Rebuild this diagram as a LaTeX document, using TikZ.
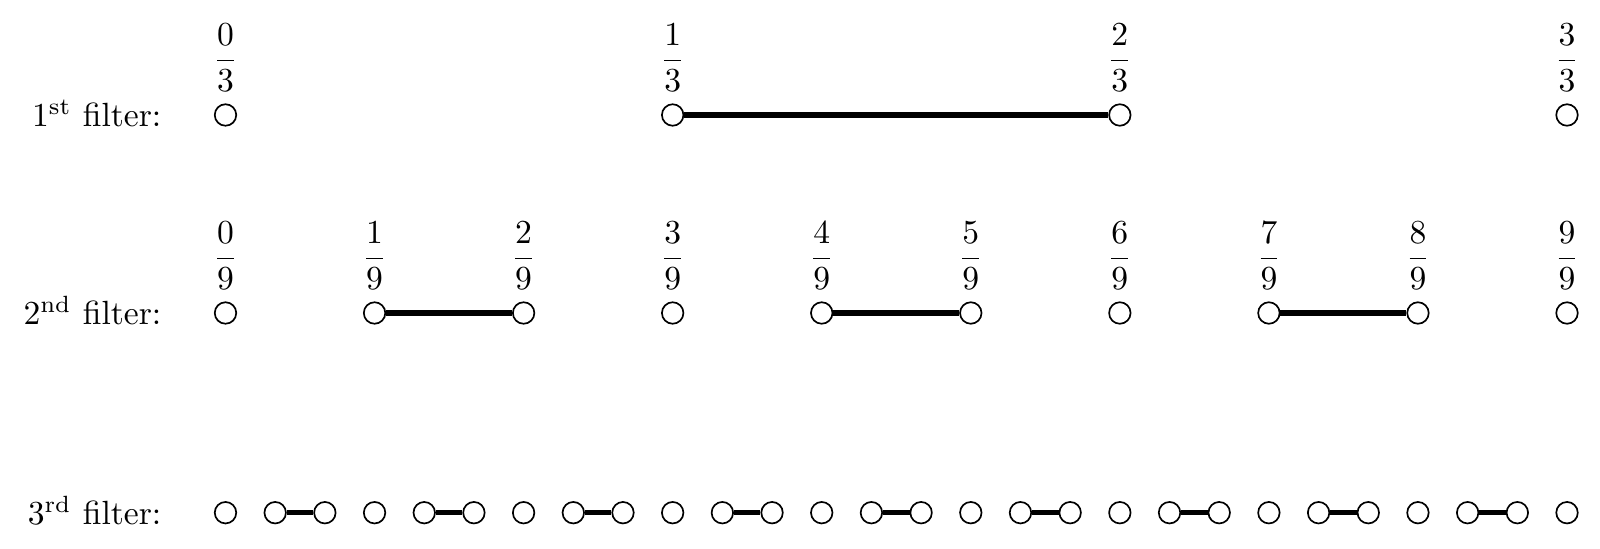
\documentclass[tikz,border=0pt]{standalone}
\usepackage{amsmath}
\begin{document}
\begin{tikzpicture}[x=0.010461cm,y=-0.010461cm,
  pt/.style={circle,draw,fill=white,inner sep=0pt,minimum size=6.4pt,line width=0.5pt},
  seg/.style={line width=1.65pt},
  rowlab/.style={anchor=base east,inner sep=0pt},
  frac/.style={inner sep=0pt}]
\useasboundingbox (-225.5,0) rectangle (1374.5,549);
% row 1
\foreach \i in {0,...,3}{
  \node[pt] (a\i) at ({\i*447.1667},115) {};
  \node[frac] (fa\i) at ({\i*447.1667},58) {$\dfrac{\i}{3}$};
}
\draw[seg] (a1) -- (a2);
\node[rowlab] (l1) at (-63.5,127) {1\textsuperscript{st} filter:};
% row 2
\foreach \i in {0,...,9}{
  \node[pt] (b\i) at ({\i*149.0556},313) {};
  \node[frac] (fb\i) at ({\i*149.0556},256) {$\dfrac{\i}{9}$};
}
\foreach \i/\j in {1/2,4/5,7/8}{\draw[seg] (b\i) -- (b\j);}
\node[rowlab] (l2) at (-63.5,325) {2\textsuperscript{nd} filter:};
% row 3
\foreach \i in {0,...,27}{
  \node[pt] (c\i) at ({\i*49.68519},512.7) {};
}
\foreach \i/\j in {1/2,4/5,7/8,10/11,13/14,16/17,19/20,22/23,25/26}{\draw[seg] (c\i) -- (c\j);}
\node[rowlab] (l3) at (-63.5,524.7) {3\textsuperscript{rd} filter:};
\end{tikzpicture}
\end{document}
